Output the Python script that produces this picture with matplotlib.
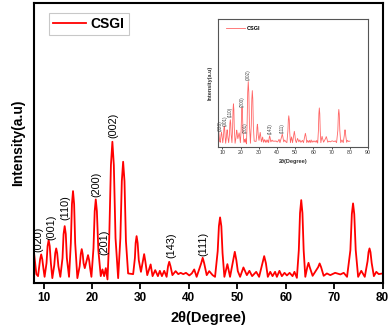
import matplotlib
matplotlib.use("Agg")
import matplotlib.pyplot as plt

plt.rcParams['font.family'] = ['Liberation Sans', 'DejaVu Sans']

# XRD pattern of CSGI (2theta in degrees, intensity a.u.)
two_theta = [8.0, 8.2, 8.5, 8.85,
             9.05, 9.28, 9.5, 9.72, 9.95, 10.2,
             10.6, 10.82, 11.04, 11.26, 11.5, 11.8,
             12.2, 12.4, 12.6, 12.8, 13.05, 13.45,
             13.9, 14.12, 14.35, 14.58, 14.8, 15.25,
             15.62, 15.85, 16.07, 16.3, 16.52, 16.97,
             17.45, 17.67, 17.87, 18.07, 18.25, 18.5,
             18.9, 19.17, 19.4, 19.6, 19.87,
             20.3, 20.55, 20.77, 21.0, 21.3, 21.8,
             22.15, 22.5, 22.84, 23.19,
             23.55, 23.9, 24.2, 24.5, 24.85, 25.39,
             25.85, 26.15, 26.42, 26.7, 27.0, 27.45, 28.49,
             28.85, 29.0, 29.2, 29.42, 29.65, 30.1,
             30.5, 30.76, 31.0, 31.4, 32.1,
             32.5, 33.05, 33.6, 34.0, 34.43, 34.9, 35.4,
             35.7, 35.94, 36.2, 36.6, 37.26, 37.8,
             38.3, 38.84, 39.4, 40.08, 40.6, 41.1, 41.6,
             42.55, 42.85, 43.15, 43.68, 44.2, 44.9, 45.4,
             45.95, 46.2, 46.44, 46.7, 46.95, 47.33, 47.95, 48.5,
             49.15, 49.48, 49.8, 50.1, 50.58, 51.26, 51.97, 52.5, 53.06,
             53.9, 54.5, 55.2, 55.55, 55.9, 56.3, 56.8, 57.27, 57.8, 58.17,
             58.7, 59.2, 59.75, 60.24, 60.8, 61.4, 61.8, 62.3,
             62.7, 62.95, 63.2, 63.45, 63.7, 64.04,
             64.45, 64.7, 64.95, 65.55, 66.7, 67.0, 67.3, 67.83,
             68.5, 69.2, 70.2, 71.28, 71.97, 72.66,
             73.35, 73.65, 73.9, 74.15, 74.45, 74.95, 75.6, 76.32,
             76.9, 77.1, 77.3, 77.5, 77.75, 78.2, 78.7, 79.2, 80.0]
intensity = [310, 220, 90, 70,
             150, 240, 287, 240, 150, 63,
             200, 370, 430, 370, 200, 50,
             180, 300, 347, 300, 170, 63,
             250, 490, 570, 490, 250, 63,
             400, 790, 920, 790, 400, 50,
             170, 290, 340, 290, 200, 150,
             230, 280, 230, 150, 63,
             350, 720, 837, 720, 330, 70,
             137, 70, 150, 37,
             450, 1180, 1413, 1180, 450, 50,
             450, 1020, 1213, 1020, 420, 97, 90,
             250, 400, 470, 400, 230, 113,
             220, 290, 220, 80, 187,
             70, 130, 70, 123, 70, 123, 63,
             170, 213, 170, 80, 120, 90,
             103, 90, 103, 77, 97, 137, 63,
             200, 253, 200, 80, 120, 80, 63,
             320, 570, 657, 570, 300, 63, 190, 63,
             230, 313, 230, 120, 63, 157, 80, 123, 70,
             113, 63, 200, 270, 200, 63, 113, 70, 113, 63,
             123, 70, 103, 77, 103, 70, 113, 53,
             330, 700, 830, 700, 330, 63,
             160, 203, 160, 73, 160, 197, 160, 73,
             97, 80, 103, 87, 103, 63,
             330, 690, 797, 690, 330, 63, 123, 63,
             220, 310, 347, 310, 200, 70, 113, 90, 97]

# Miller index labels
hkl = ['(020)', '(001)', '(110)', '(200)', '(201)', '(002)', '(143)', '(111)']
hkl_x = [9.0, 11.7, 14.45, 20.9, 22.5, 24.35, 36.3, 42.9]
hkl_y = [310, 430, 630, 860, 280, 1450, 250, 270]

inset_ticks = [10, 20, 30, 40, 50, 60, 70, 80, 90]

fig = plt.figure(figsize=(3.9, 3.3), dpi=100)
ax = fig.add_axes([0.087, 0.142, 0.894, 0.849])
ax.plot(two_theta, intensity, color='red', lw=1.3, label='CSGI')
for lab, x, y in zip(hkl, hkl_x, hkl_y):
    ax.text(x, y, lab, rotation=90, ha='center', va='bottom', fontsize=7.8)
ax.set_xlim(8, 80)
ax.set_ylim(0, 2800)
ax.set_xticks([10, 20, 30, 40, 50, 60, 70, 80])
ax.set_yticks([])
ax.tick_params(axis='x', direction='out', length=4.5, width=1.3, pad=2,
               labelsize=8.5)
for t in ax.get_xticklabels():
    t.set_fontweight('bold')
for s in ax.spines.values():
    s.set_linewidth(1.5)
ax.set_xlabel('2θ(Degree)', fontsize=10.5, fontweight='bold', labelpad=5)
ax.set_ylabel('Intensity(a.u)', fontsize=10, fontweight='bold', labelpad=6)
leg = ax.legend(loc='upper left', bbox_to_anchor=(0.043, 0.964),
                borderaxespad=0, prop={'weight': 'bold', 'size': 10},
                handlelength=2.4, fancybox=False, borderpad=0.3,
                handletextpad=0.3)
leg.get_frame().set_edgecolor('#bbbbbb')
leg.get_frame().set_linewidth(0.8)

# inset (same pattern, smaller and lighter)
axi = fig.add_axes([0.559, 0.555, 0.385, 0.388])
axi.plot(two_theta, intensity, color='#ff4a4a', lw=0.6, alpha=0.85, label='CSGI')
for lab, x, y in zip(hkl, hkl_x, hkl_y):
    axi.text(x, y, lab, rotation=90, ha='center', va='bottom', fontsize=3.3,
             color='#444444')
axi.set_xlim(7.6, 90)
axi.set_ylim(-30, 2800)
axi.set_xticks(inset_ticks)
axi.set_yticks([])
axi.tick_params(axis='x', length=1.5, width=0.6, pad=1, labelsize=3.8,
                colors='#333333')
for s in axi.spines.values():
    s.set_linewidth(0.8)
    s.set_color('#555555')
axi.set_xlabel('2θ(Degree)', fontsize=4, fontweight='bold', labelpad=3,
               color='#333333')
axi.set_ylabel('Intensity(a.u)', fontsize=4, fontweight='bold', labelpad=4,
               color='#333333')
axi.legend(loc='upper left', bbox_to_anchor=(0.02, 0.98), frameon=False,
           prop={'weight': 'bold', 'size': 4}, handlelength=3.5,
           handletextpad=0.3)

fig.savefig('out.png', dpi=100)
